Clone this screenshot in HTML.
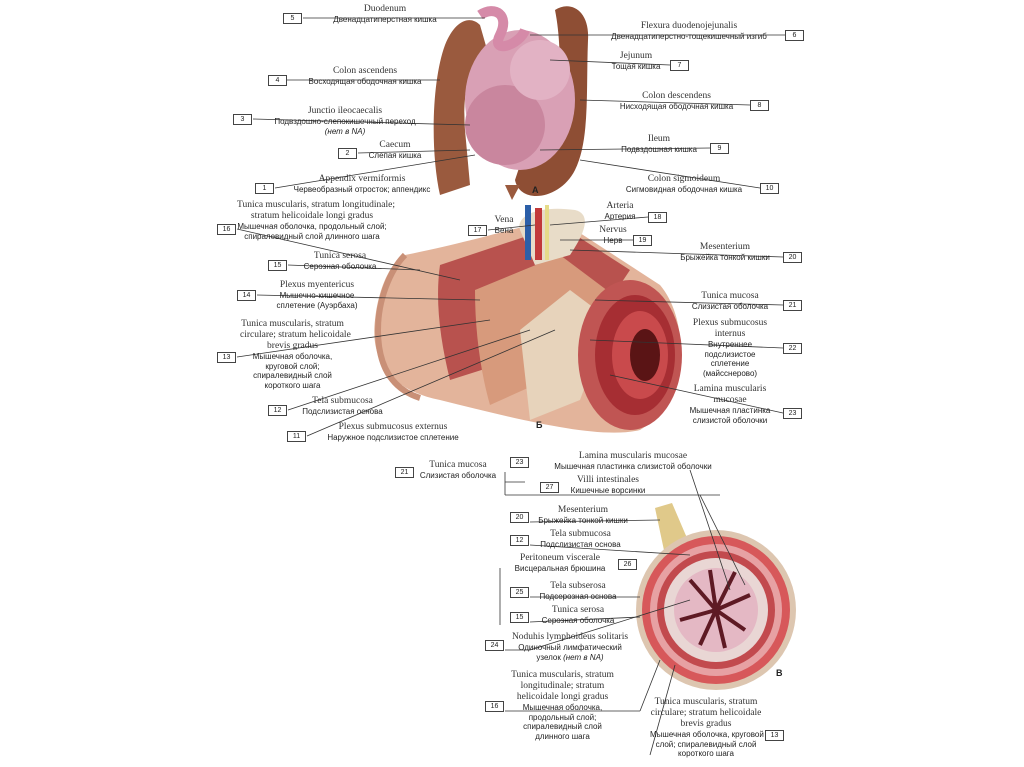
<!DOCTYPE html>
<html><head><meta charset="utf-8"><style>
body{margin:0;width:1024px;height:767px;background:#fff;position:relative;overflow:hidden}
.l{position:absolute;font-family:"Liberation Serif",serif;font-size:9.5px;color:#333;line-height:11px;text-align:center;white-space:nowrap}
.r{font-family:"Liberation Sans",sans-serif;font-size:8px;color:#222;line-height:9.5px}
.b{position:absolute;border:1px solid #444;width:17px;height:9px;font:7px "Liberation Sans",sans-serif;text-align:center;line-height:9px;color:#222;background:#fff}
.L{position:absolute;font:bold 9px "Liberation Sans",sans-serif;color:#222}
svg{position:absolute;left:0;top:0}
</style></head><body>
<svg width="1024" height="767">
<path d="M440 195 C430 150 432 80 445 45 C455 20 470 15 480 25 L490 60 C470 60 462 90 465 130 L470 185 Z" fill="#9a5a3e"/>
<path d="M555 10 C570 0 590 10 588 40 C586 90 590 140 575 170 C560 200 520 205 515 180 L525 150 C545 150 560 120 560 90 C560 60 560 35 555 10Z" fill="#8e4e34"/>
<ellipse cx="520" cy="100" rx="55" ry="70" fill="#d9a0b5"/>
<ellipse cx="505" cy="125" rx="40" ry="40" fill="#c9869e"/>
<ellipse cx="540" cy="70" rx="30" ry="30" fill="#e2b2c4"/>
<path d="M480 15 C495 5 510 15 500 35 C490 55 520 45 525 30" stroke="#d58aa8" stroke-width="10" fill="none"/>
<path d="M505 185 L512 200 L520 185" fill="#9a5a3e"/>
<g stroke="#333" stroke-width="0.8" fill="none">
<line x1="303" y1="18" x2="485" y2="18"/><line x1="287" y1="80" x2="440" y2="80"/>
<line x1="253" y1="119" x2="470" y2="125"/><line x1="358" y1="153" x2="470" y2="150"/>
<line x1="275" y1="188" x2="475" y2="155"/><line x1="785" y1="35" x2="530" y2="35"/>
<line x1="670" y1="65" x2="550" y2="60"/><line x1="750" y1="105" x2="580" y2="100"/>
<line x1="710" y1="148" x2="540" y2="150"/><line x1="760" y1="188" x2="580" y2="160"/>
</g>
<path d="M405 255 C480 240 520 225 560 220 L660 285 C690 320 690 400 640 430 C600 440 520 420 440 400 C390 390 370 360 375 320 C378 290 390 262 405 255Z" fill="#e3b49b"/>
<path d="M405 255 C390 270 378 300 378 330 C378 370 395 390 420 398" stroke="#c99077" stroke-width="6" fill="none"/>
<path d="M440 265 L560 225 L630 270 L590 330 L560 345 L450 380 C440 340 435 300 440 265Z" fill="#b8524e"/>
<path d="M475 290 L560 255 L620 300 L590 360 L490 405 C480 370 475 330 475 290Z" fill="#d79a7c"/>
<path d="M520 330 L570 290 L610 320 L580 400 L530 420 Z" fill="#e7d3bb"/>
<ellipse cx="630" cy="355" rx="52" ry="75" fill="#c05553"/>
<ellipse cx="635" cy="355" rx="40" ry="60" fill="#a62e33"/>
<ellipse cx="640" cy="355" rx="28" ry="44" fill="#c94a4c"/>
<ellipse cx="645" cy="355" rx="15" ry="26" fill="#5a1415"/>
<path d="M520 230 C515 215 540 205 575 210 C595 215 580 240 570 255 L535 265Z" fill="#e8dcc8"/>
<rect x="525" y="205" width="6" height="55" fill="#2c5fa8"/><rect x="535" y="208" width="7" height="52" fill="#c23a3a"/><rect x="545" y="205" width="4" height="55" fill="#e6dc8a"/>
<g stroke="#333" stroke-width="0.8" fill="none">
<line x1="237" y1="229" x2="460" y2="280"/><line x1="288" y1="265" x2="420" y2="270"/>
<line x1="257" y1="295" x2="480" y2="300"/><line x1="237" y1="357" x2="490" y2="320"/>
<line x1="288" y1="410" x2="530" y2="330"/><line x1="307" y1="436" x2="555" y2="330"/>
<line x1="488" y1="230" x2="535" y2="225"/><line x1="648" y1="217" x2="550" y2="225"/>
<line x1="635" y1="240" x2="560" y2="240"/><line x1="783" y1="257" x2="570" y2="250"/>
<line x1="783" y1="305" x2="595" y2="300"/><line x1="783" y1="348" x2="590" y2="340"/>
<line x1="783" y1="413" x2="610" y2="375"/>
</g>
<path d="M655 508 L672 503 L690 545 L665 555Z" fill="#e0c98a"/>
<circle cx="716" cy="610" r="80" fill="#ddc6b0"/>
<circle cx="716" cy="610" r="74" fill="#d7585a"/>
<circle cx="716" cy="610" r="66" fill="#e7a1a3"/>
<circle cx="716" cy="610" r="59" fill="#c24a4e"/>
<circle cx="716" cy="610" r="52" fill="#e9d6d4"/>
<circle cx="716" cy="610" r="42" fill="#e4b8c4"/>
<g stroke="#5e1a24" stroke-width="4" fill="none">
<path d="M716 610 L690 580 M716 610 L710 570 M716 610 L735 572 M716 610 L750 595 M716 610 L745 630 M716 610 L725 648 M716 610 L700 645 M716 610 L680 620"/></g>
<g stroke="#333" stroke-width="0.8" fill="none">
<line x1="505" y1="472" x2="505" y2="495"/><line x1="505" y1="482" x2="525" y2="482"/>
<line x1="505" y1="495" x2="720" y2="495"/><line x1="690" y1="470" x2="730" y2="590"/>
<line x1="700" y1="495" x2="745" y2="585"/><line x1="530" y1="522" x2="660" y2="520"/>
<line x1="530" y1="545" x2="690" y2="555"/><line x1="500" y1="568" x2="500" y2="625"/>
<line x1="530" y1="597" x2="640" y2="597"/><line x1="530" y1="622" x2="640" y2="617"/>
<line x1="505" y1="650" x2="530" y2="650"/><line x1="530" y1="650" x2="690" y2="600"/>
<line x1="505" y1="711" x2="640" y2="711"/><line x1="640" y1="711" x2="660" y2="660"/>
<line x1="650" y1="755" x2="675" y2="665"/>
</g>
</svg>

<div class="b" style="left:283px;top:13px">5</div><div class="l" style="left:305px;top:4px;width:160px">Duodenum<div class="r">Двенадцатиперстная кишка</div></div>
<div class="b" style="left:268px;top:75px">4</div><div class="l" style="left:290px;top:66px;width:150px">Colon ascendens<div class="r">Восходящая ободочная кишка</div></div>
<div class="b" style="left:233px;top:114px">3</div><div class="l" style="left:255px;top:106px;width:180px">Junctio ileocaecalis<div class="r">Подвздошно-слепокишечный переход<br><i>(нет в NA)</i></div></div>
<div class="b" style="left:338px;top:148px">2</div><div class="l" style="left:360px;top:140px;width:70px">Caecum<div class="r">Слепая кишка</div></div>
<div class="b" style="left:255px;top:183px">1</div><div class="l" style="left:277px;top:174px;width:170px">Appendix vermiformis<div class="r">Червеобразный отросток; аппендикс</div></div>
<div class="b" style="left:785px;top:30px">6</div><div class="l" style="left:595px;top:21px;width:188px">Flexura duodenojejunalis<div class="r">Двенадцатиперстно-тощекишечный изгиб</div></div>
<div class="b" style="left:670px;top:60px">7</div><div class="l" style="left:605px;top:51px;width:62px">Jejunum<div class="r">Тощая кишка</div></div>
<div class="b" style="left:750px;top:100px">8</div><div class="l" style="left:605px;top:91px;width:143px">Colon descendens<div class="r">Нисходящая ободочная кишка</div></div>
<div class="b" style="left:710px;top:143px">9</div><div class="l" style="left:610px;top:134px;width:98px">Ileum<div class="r">Подвздошная кишка</div></div>
<div class="b" style="left:760px;top:183px">10</div><div class="l" style="left:610px;top:174px;width:148px">Colon sigmoideum<div class="r">Сигмовидная ободочная кишка</div></div>
<div class="L" style="left:532px;top:185px">A</div>

<div class="b" style="left:217px;top:224px">16</div><div class="l" style="left:237px;top:200px;width:150px">Tunica muscularis, stratum longitudinale;<br>stratum helicoidale longi gradus<div class="r">Мышечная оболочка, продольный слой;<br>спиралевидный слой длинного шага</div></div>
<div class="b" style="left:268px;top:260px">15</div><div class="l" style="left:290px;top:251px;width:100px">Tunica serosa<div class="r">Серозная оболочка</div></div>
<div class="b" style="left:237px;top:290px">14</div><div class="l" style="left:258px;top:280px;width:118px">Plexus myentericus<div class="r">Мышечно-кишечное<br>сплетение (Ауэрбаха)</div></div>
<div class="b" style="left:217px;top:352px">13</div><div class="l" style="left:240px;top:319px;width:105px">Tunica muscularis, stratum<br>circulare; stratum helicoidale<br>brevis gradus<div class="r">Мышечная оболочка,<br>круговой слой;<br>спиралевидный слой<br>короткого шага</div></div>
<div class="b" style="left:268px;top:405px">12</div><div class="l" style="left:290px;top:396px;width:105px">Tela submucosa<div class="r">Подслизистая основа</div></div>
<div class="b" style="left:287px;top:431px">11</div><div class="l" style="left:308px;top:422px;width:170px">Plexus submucosus externus<div class="r">Наружное подслизистое сплетение</div></div>
<div class="b" style="left:468px;top:225px">17</div><div class="l" style="left:488px;top:215px;width:32px">Vena<div class="r">Вена</div></div>
<div class="b" style="left:648px;top:212px">18</div><div class="l" style="left:595px;top:201px;width:50px">Arteria<div class="r">Артерия</div></div>
<div class="b" style="left:633px;top:235px">19</div><div class="l" style="left:595px;top:225px;width:36px">Nervus<div class="r">Нерв</div></div>
<div class="b" style="left:783px;top:252px">20</div><div class="l" style="left:670px;top:242px;width:110px">Mesenterium<div class="r">Брыжейка тонкой кишки</div></div>
<div class="b" style="left:783px;top:300px">21</div><div class="l" style="left:680px;top:291px;width:100px">Tunica mucosa<div class="r">Слизистая оболочка</div></div>
<div class="b" style="left:783px;top:343px">22</div><div class="l" style="left:685px;top:318px;width:90px">Plexus submucosus<br>internus<div class="r">Внутреннее<br>подслизистое<br>сплетение<br>(майсснерово)</div></div>
<div class="b" style="left:783px;top:408px">23</div><div class="l" style="left:680px;top:384px;width:100px">Lamina muscularis<br>mucosae<div class="r">Мышечная пластинка<br>слизистой оболочки</div></div>
<div class="L" style="left:536px;top:420px">Б</div>

<div class="b" style="left:395px;top:467px">21</div><div class="l" style="left:412px;top:460px;width:92px">Tunica mucosa<div class="r">Слизистая оболочка</div></div>
<div class="b" style="left:510px;top:457px">23</div><div class="l" style="left:528px;top:451px;width:210px">Lamina muscularis mucosae<div class="r">Мышечная пластинка слизистой оболочки</div></div>
<div class="b" style="left:540px;top:482px">27</div><div class="l" style="left:558px;top:475px;width:100px">Villi intestinales<div class="r">Кишечные ворсинки</div></div>
<div class="b" style="left:510px;top:512px">20</div><div class="l" style="left:528px;top:505px;width:110px">Mesenterium<div class="r">Брыжейка тонкой кишки</div></div>
<div class="b" style="left:510px;top:535px">12</div><div class="l" style="left:528px;top:529px;width:105px">Tela submucosa<div class="r">Подслизистая основа</div></div>
<div class="b" style="left:618px;top:559px">26</div><div class="l" style="left:505px;top:553px;width:110px">Peritoneum viscerale<div class="r">Висцеральная брюшина</div></div>
<div class="b" style="left:510px;top:587px">25</div><div class="l" style="left:528px;top:581px;width:100px">Tela subserosa<div class="r">Подсерозная основа</div></div>
<div class="b" style="left:510px;top:612px">15</div><div class="l" style="left:528px;top:605px;width:100px">Tunica serosa<div class="r">Серозная оболочка</div></div>
<div class="b" style="left:485px;top:640px">24</div><div class="l" style="left:505px;top:632px;width:130px">Noduhis lymphoideus solitaris<div class="r">Одиночный лимфатический<br>узелок <i>(нет в NA)</i></div></div>
<div class="b" style="left:485px;top:701px">16</div><div class="l" style="left:505px;top:670px;width:115px">Tunica muscularis, stratum<br>longitudinale; stratum<br>helicoidale longi gradus<div class="r">Мышечная оболочка,<br>продольный слой;<br>спиралевидный слой<br>длинного шага</div></div>
<div class="b" style="left:765px;top:730px">13</div><div class="l" style="left:650px;top:697px;width:112px">Tunica muscularis, stratum<br>circulare; stratum helicoidale<br>brevis gradus<div class="r">Мышечная оболочка, круговой<br>слой; спиралевидный слой<br>короткого шага</div></div>
<div class="L" style="left:776px;top:668px">В</div>
</body></html>
